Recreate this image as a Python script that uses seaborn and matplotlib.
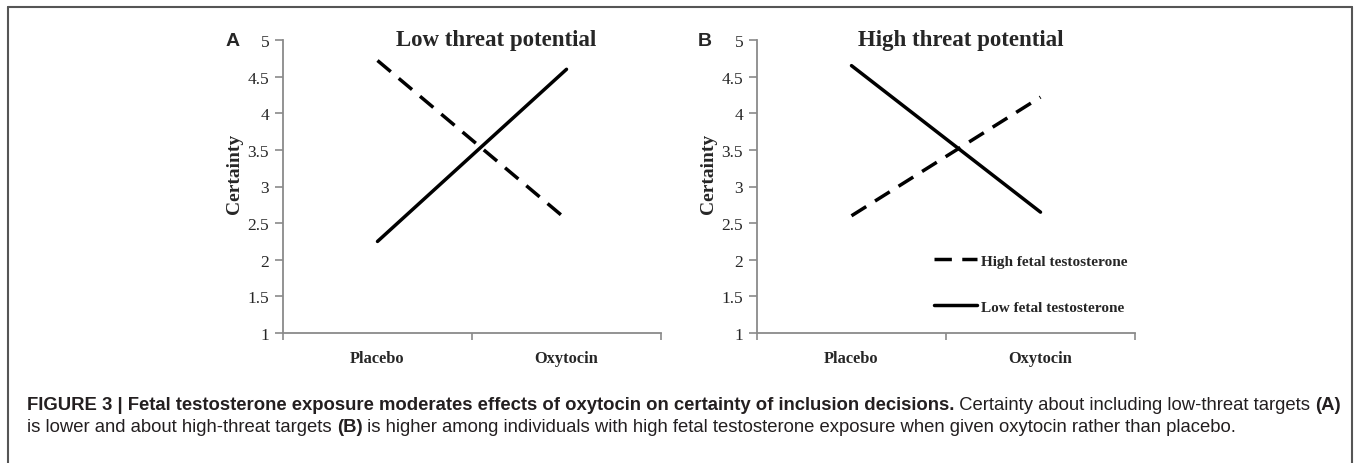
import pandas as pd
import seaborn as sns
import matplotlib.pyplot as plt
from matplotlib.lines import Line2D

# values
conditions = ["Placebo", "Oxytocin"]
groups = ["High fetal testosterone", "Low fetal testosterone"]
low_threat_high_ft = [4.72, 2.55]
low_threat_low_ft = [2.25, 4.60]
high_threat_high_ft = [2.60, 4.22]
high_threat_low_ft = [4.65, 2.65]
y_ticks = [1, 1.5, 2, 2.5, 3, 3.5, 4, 4.5, 5]

caption_line1 = [
    ("FIGURE 3 | Fetal testosterone exposure moderates effects of oxytocin on certainty of inclusion decisions.", "bold"),
    (" Certainty about including low-threat targets ", "normal"),
    ("(A)", "bold"),
]
caption_line2 = [
    ("is lower and about high-threat targets ", "normal"),
    ("(B)", "bold"),
    (" is higher among individuals with high fetal testosterone exposure when given oxytocin rather than placebo.", "normal"),
]


def make_frame(high_vals, low_vals):
    rows = []
    for g, vals in zip(groups, [high_vals, low_vals]):
        for i, (c, v) in enumerate(zip(conditions, vals)):
            rows.append({"condition": c, "pos": i + 0.5, "group": g, "certainty": v})
    return pd.DataFrame(rows)


sns.set_theme(style="white")
plt.rcParams["font.family"] = ["Liberation Serif", "DejaVu Serif"]

fig = plt.figure(figsize=(13.56, 4.64), dpi=100)
W, H = 1356, 464

panels = [
    ("A", "Low threat potential", make_frame(low_threat_high_ft, low_threat_low_ft), 283, 233, 0.565, False),
    ("B", "High threat potential", make_frame(high_threat_high_ft, high_threat_low_ft), 757, 705, 0.54, True),
]

axis_grey = "#8a8a8a"
dash_style = {groups[0]: (5, 3), groups[1]: ""}

for letter, title, df, left_px, letter_px, title_x, show_legend in panels:
    ax = fig.add_axes([left_px / W, 1 - 334 / H, 378 / W, 293 / H])
    sns.lineplot(data=df, x="pos", y="certainty", hue="group", style="group",
                 palette=["black", "black"], dashes=dash_style, linewidth=2.5,
                 legend=False, ax=ax)
    ax.set_xlim(0, 2)
    ax.set_ylim(1, 5)
    ax.set_yticks(y_ticks)
    ax.set_yticklabels([f"{t:g}" for t in y_ticks], fontsize=12.5)
    ax.set_xticks([0, 1, 2])
    ax.set_xticklabels([])
    ax.set_xticks([0.5, 1.5], minor=True)
    ax.set_xticklabels(conditions, minor=True, fontsize=11.8, fontweight="bold")
    ax.tick_params(axis="x", which="major", direction="out", length=5, width=1.2,
                   color=axis_grey, bottom=True)
    ax.tick_params(axis="x", which="minor", length=0, pad=12, bottom=True)
    ax.tick_params(axis="y", direction="out", length=6, width=1.2, color=axis_grey,
                   left=True, pad=4)
    for s in ["top", "right"]:
        ax.spines[s].set_visible(False)
    for s in ["left", "bottom"]:
        ax.spines[s].set_color(axis_grey)
        ax.spines[s].set_linewidth(1.3)
    ax.set_xlabel("")
    ax.set_ylabel("Certainty", fontsize=14, fontweight="bold")
    ax.yaxis.set_label_coords(-0.105, 0.545)
    ax.text(title_x, 1.0, title, transform=ax.transAxes,
            ha="center", va="center", fontsize=16.5, fontweight="bold")
    fig.text(letter_px / W, 1 - 41 / H, letter, ha="center", va="center",
             fontsize=14, fontweight="bold", family=["Liberation Sans", "DejaVu Sans"])
    if show_legend:
        handles = [Line2D([], [], color="black", lw=2.5, dashes=(5, 3)),
                   Line2D([], [], color="black", lw=2.5)]
        ax.legend(handles, groups, loc="upper left", bbox_to_anchor=(0.453, 0.29),
                  frameon=False, handlelength=2.8, handletextpad=0.25,
                  labelspacing=2.1, prop={"size": 11, "weight": "bold"},
                  borderaxespad=0)

# outer frame (open at the bottom)
frame_col = "#555555"
fig.add_artist(Line2D([8 / W, 8 / W], [0, 1 - 8 / H], transform=fig.transFigure, color=frame_col, lw=1.5))
fig.add_artist(Line2D([1352 / W, 1352 / W], [0, 1 - 8 / H], transform=fig.transFigure, color=frame_col, lw=1.5))
fig.add_artist(Line2D([8 / W, 1352 / W], [1 - 8 / H, 1 - 8 / H], transform=fig.transFigure, color=frame_col, lw=1.5))

# caption, drawn as runs of bold / regular text
fig.canvas.draw()
renderer = fig.canvas.get_renderer()
cap_size = 13.3
for runs, y_px in [(caption_line1, 406), (caption_line2, 428)]:
    x_px = 27
    for txt, weight in runs:
        t = fig.text(x_px / W, 1 - y_px / H, txt, ha="left", va="center",
                     fontsize=cap_size, fontweight=weight, color="#231f20",
                     family=["Liberation Sans", "DejaVu Sans"])
        bb = t.get_window_extent(renderer=renderer)
        x_px += bb.width

fig.savefig("out.png", dpi=100, facecolor="white")
